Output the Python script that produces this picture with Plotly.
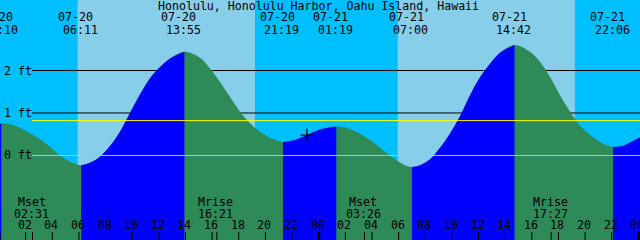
import plotly.graph_objects as go

# ---------------- data ----------------
title_text = "Honolulu, Honolulu Harbor, Oahu Island, Hawaii"

# tide curve readings (hours since 07-20 00:00, feet)
tide_hours = [0.0, 0.17, 0.83, 1.58, 2.33, 3.08, 3.83, 4.58, 5.33, 6.18,
              6.83, 7.58, 8.33, 9.08, 9.83, 10.59, 11.34, 12.09, 12.84, 13.92,
              15.09, 15.84, 16.59, 17.34, 18.09, 18.84, 19.59, 20.35, 21.32,
              22.07, 23.12, 24.1, 25.32,
              25.98, 26.73, 27.48, 28.23, 28.98, 29.73, 30.48, 31.0,
              31.61, 32.36, 33.11, 33.86, 34.61, 35.36, 36.11, 36.86, 37.61, 38.7,
              39.86, 40.62, 41.37, 42.12, 42.87, 43.62, 44.37, 45.12, 46.1,
              46.85, 47.6, 48.3]
tide_ft = [0.75, 0.76, 0.74, 0.65, 0.52, 0.38, 0.20, 0.0, -0.14, -0.23,
           -0.17, -0.03, 0.22, 0.56, 1.0, 1.44, 1.82, 2.08, 2.28, 2.44,
           2.30, 2.05, 1.73, 1.38, 1.03, 0.76, 0.56, 0.42, 0.32,
           0.35, 0.48, 0.61, 0.68,
           0.66, 0.57, 0.44, 0.28, 0.08, -0.09, -0.23, -0.27,
           -0.23, -0.09, 0.18, 0.52, 0.93, 1.42, 1.84, 2.16, 2.42, 2.60,
           2.44, 2.20, 1.85, 1.42, 1.03, 0.70, 0.49, 0.32, 0.20,
           0.23, 0.34, 0.46]

# high / low tide events
event_dates = ["07-20", "07-20", "07-20", "07-20", "07-21", "07-21", "07-21", "07-21"]
event_times = ["00:10", "06:11", "13:55", "21:19", "01:19", "07:00", "14:42", "22:06"]

# sunrise / sunset
sun_dates = ["07-20", "07-20", "07-21", "07-21"]
sun_times = ["05:54", "19:13", "05:56", "19:14"]

# moon events
moon_kinds = ["Mset", "Mrise", "Mset", "Mrise"]
moon_dates = ["07-20", "07-20", "07-21", "07-21"]
moon_times = ["02:31", "16:21", "03:26", "17:27"]

# hour axis labels
hour_labels = ["00", "02", "04", "06", "08", "10", "12", "14", "16", "18", "20", "22",
               "00", "02", "04", "06", "08", "10", "12", "14", "16", "18", "20", "22", "00"]
hour_values = [0, 2, 4, 6, 8, 10, 12, 14, 16, 18, 20, 22,
               24, 26, 28, 30, 32, 34, 36, 38, 40, 42, 44, 46, 48]

# level lines
level_values = [2, 1, 0]
level_labels = ["2 ft", "1 ft", "0 ft"]
mean_level = 0.82

# "now" mark
mark_date = "07-20"
mark_time = "23:07"
mark_level = 0.48

# ---------------- styling ----------------
NIGHT = "#00BFFF"
DAY = "#87CEEB"
RISE = "#0000FF"
FALL = "#2E8B57"
FONT = dict(family="DejaVu Sans Mono, Liberation Mono, monospace", size=11.6, color="black")
X_RANGE = [0.075, 48.12]
Y_RANGE = [-1.99, 3.66]
W, H = 640, 240


def to_hours(d, t):
    return (int(d[3:]) - 20) * 24 + int(t[:2]) + int(t[3:]) / 60.0


def py(px):
    return 1 - px / H


event_hours = [to_hours(d, t) for d, t in zip(event_dates, event_times)]
sun_hours = [to_hours(d, t) for d, t in zip(sun_dates, sun_times)]
moon_hours = [to_hours(d, t) for d, t in zip(moon_dates, moon_times)]

fig = go.Figure()

# full curve in falling colour
fig.add_trace(go.Scatter(x=[tide_hours[0], tide_hours[-1]], y=[-3, -3], mode="lines",
                         line=dict(width=0), hoverinfo="skip", showlegend=False))
fig.add_trace(go.Scatter(x=tide_hours, y=tide_ft, mode="lines",
                         line=dict(width=0, shape="spline", color=FALL),
                         fill="tonexty", fillcolor=FALL, hoverinfo="skip", showlegend=False))

# split into segments at the extremes and overlay rising parts
idx = [0]
for eh in event_hours:
    best = min(range(len(tide_hours)), key=lambda i: abs(tide_hours[i] - eh))
    idx.append(best)
idx.append(len(tide_hours) - 1)
idx = sorted(set(idx))
for a, b in zip(idx[:-1], idx[1:]):
    seg_h = tide_hours[a:b + 1]
    seg_y = tide_ft[a:b + 1]
    if seg_y[-1] > seg_y[0]:
        fig.add_trace(go.Scatter(x=[seg_h[0], seg_h[-1]], y=[-3, -3], mode="lines",
                                 line=dict(width=0), hoverinfo="skip", showlegend=False))
        fig.add_trace(go.Scatter(x=seg_h, y=seg_y, mode="lines",
                                 line=dict(width=0, shape="spline", color=RISE),
                                 fill="tonexty", fillcolor=RISE, hoverinfo="skip",
                                 showlegend=False))

# mark
fig.add_trace(go.Scatter(x=[to_hours(mark_date, mark_time)], y=[mark_level], mode="markers",
                         marker=dict(symbol="cross-thin", size=9,
                                     line=dict(color="black", width=1.2)),
                         hoverinfo="skip", showlegend=False))

shapes = []
# daylight bands
for s0, s1 in zip(sun_hours[0::2], sun_hours[1::2]):
    shapes.append(dict(type="rect", xref="x", yref="paper", x0=s0, x1=s1, y0=0, y1=1,
                       fillcolor=DAY, line=dict(width=0), layer="below"))
# level lines (behind water)
for lv in level_values:
    if lv != 0:
        shapes.append(dict(type="line", xref="paper", yref="y", x0=32 / W, x1=1, y0=lv, y1=lv,
                           line=dict(color="black", width=1), layer="below"))
    else:
        shapes.append(dict(type="line", xref="paper", yref="y", x0=32 / W, x1=1, y0=lv, y1=lv,
                           line=dict(color=DAY, width=1), layer="above"))
shapes.append(dict(type="line", xref="paper", yref="y", x0=32 / W, x1=1, y0=mean_level,
                   y1=mean_level, line=dict(color="#FFFF00", width=1), layer="above"))
# hour ticks
for hv in hour_values:
    shapes.append(dict(type="line", xref="x", yref="paper", x0=hv, x1=hv, y0=0, y1=py(232),
                       line=dict(color="black", width=3 if hv % 24 == 0 else 1), layer="above"))
for mh in moon_hours:
    shapes.append(dict(type="line", xref="x", yref="paper", x0=mh, x1=mh, y0=0, y1=py(232),
                       line=dict(color="black", width=1), layer="above"))

ann = []
ann.append(dict(text=title_text, xref="paper", yref="paper", x=318.5 / W, y=py(5.5),
                xanchor="center", yanchor="middle", showarrow=False, font=FONT))
for eh, d, t in zip(event_hours, event_dates, event_times):
    ann.append(dict(text=d, xref="x", yref="paper", x=eh, y=py(17.5), xshift=-5.5,
                    xanchor="center", yanchor="middle", showarrow=False, font=FONT))
    ann.append(dict(text=t, xref="x", yref="paper", x=eh, y=py(30), xshift=-1,
                    xanchor="center", yanchor="middle", showarrow=False, font=FONT))
for mh, k, t in zip(moon_hours, moon_kinds, moon_times):
    ann.append(dict(text=k, xref="x", yref="paper", x=mh, y=py(202), xshift=-1,
                    xanchor="center", yanchor="middle", showarrow=False, font=FONT))
    ann.append(dict(text=t, xref="x", yref="paper", x=mh, y=py(213.5), xshift=-1,
                    xanchor="center", yanchor="middle", showarrow=False, font=FONT))
for hv, hl in zip(hour_values, hour_labels):
    ann.append(dict(text=hl, xref="x", yref="paper", x=hv, y=py(224.5), xshift=-1,
                    xanchor="center", yanchor="middle", showarrow=False, font=FONT))
for lv, ll in zip(level_values, level_labels):
    ann.append(dict(text=ll, xref="paper", yref="y", x=1.5 / W, y=lv,
                    xanchor="left", yanchor="middle", showarrow=False, font=FONT))

fig.update_layout(
    width=W, height=H, margin=dict(l=0, r=0, t=0, b=0),
    paper_bgcolor=NIGHT, plot_bgcolor=NIGHT,
    xaxis=dict(range=X_RANGE, visible=False, fixedrange=True),
    yaxis=dict(range=Y_RANGE, visible=False, fixedrange=True),
    shapes=shapes, annotations=ann, showlegend=False,
)
fig.write_html("out.html", config=dict(displayModeBar=False))
